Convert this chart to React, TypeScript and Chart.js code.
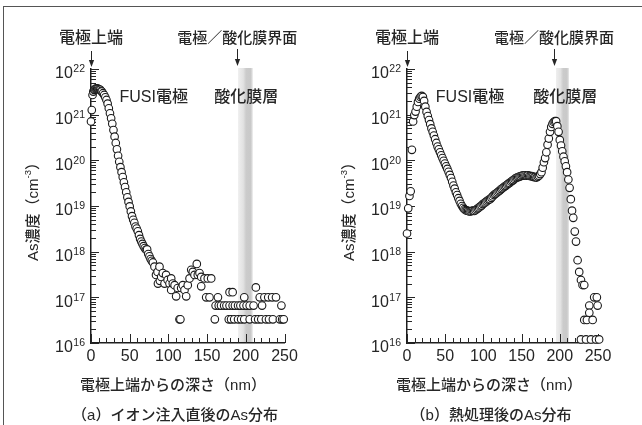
import React, { useEffect, useRef } from "react";
import { Chart, registerables } from "chart.js";

Chart.register(...registerables);

// ---------- data ----------
const xTickValues = [0, 50, 100, 150, 200, 250];
const yTickExponents = [16, 17, 18, 19, 20, 21, 22];

// (a) as implanted: depth (nm) and As concentration (cm^-3)
const aDepth = [
  0, 1, 2, 3, 4, 5, 6, 7, 8, 9, 10, 11, 12, 13, 14, 15.5, 17, 18.5, 20, 21.5, 23, 24.5, 26, 27.5, 29, 30.5, 32,
  33.5, 35, 36.5, 38, 39.5, 41, 42.5, 44, 45.5, 47, 48.5, 50, 51.5, 53, 54.5, 56, 57.5, 59, 60.5, 62, 63.5, 65,
  66.5, 68, 69.5, 71, 72.5, 74, 75.5, 77, 78.5, 80,
  82, 84, 86, 86.5, 88.5, 89, 90.7, 92.8, 95, 97, 99, 101.4, 103.6, 103.6, 105.7, 108, 110, 112, 114.3, 115.5,
  116.5, 118.6, 120.8, 123, 125, 127.3, 129.5, 131.5, 133.7, 136.7, 138, 140.2, 142.4, 142.4, 146.6, 148.8,
  150.9, 153.1, 155.3,
  160, 161, 164, 165, 168, 172, 175, 178, 179, 179, 181, 183, 183, 185, 186, 190, 190, 193, 194, 197, 198, 198,
  201, 205, 205, 210, 212, 213, 216, 218, 220, 221, 224, 226, 229, 230, 234, 235, 239, 244, 246, 247, 249,
];
const aConc = [
  7.1e20, 1.26e21, 2.7e21, 3.2e21, 3.5e21, 3.6e21, 3.7e21, 3.7e21, 3.7e21, 3.7e21, 3.6e21, 3.55e21, 3.5e21, 3.3e21,
  3.2e21, 2.95e21, 2.7e21, 2.4e21, 2.1e21, 1.74e21, 1.38e21, 1.07e21, 8.3e20, 6.3e20, 4.6e20, 3.3e20, 2.4e20,
  1.74e20, 1.26e20, 9.3e19, 7.1e19, 5.5e19, 4.3e19, 3.3e19, 2.6e19, 2.0e19, 1.55e19, 1.23e19, 9.8e18, 7.6e18,
  6.0e18, 5.0e18, 4.3e18, 3.55e18, 3.2e18, 2.8e18, 2.3e18, 1.9e18, 1.66e18, 1.48e18, 1.32e18, 1.2e18, 1.1e18,
  1.12e18, 8.9e17, 7.9e17, 6.9e17, 6.3e17, 5.8e17,
  4.7e17, 3.1e17, 3.6e17, 2.0e17, 4.7e17, 2.3e17, 2.8e17, 3.4e17, 2.0e17, 3.1e17, 2.4e17, 2.0e17, 2.6e17, 1.45e17,
  2.0e17, 1.85e17, 1.05e17, 1.6e17, 3.3e16, 3.3e16, 1.6e17, 1.85e17, 1.45e17, 1.05e17, 1.85e17, 2.6e17, 4.0e17,
  3.6e17, 3.1e17, 5.4e17, 3.1e17, 3.4e17, 2.8e17, 1.74e17, 2.6e17, 1.0e17, 2.6e17, 1.0e17, 2.6e17,
  3.3e16, 6.6e16, 1.0e17, 6.6e16, 6.6e16, 6.6e16, 6.6e16, 3.3e16, 1.3e17, 6.6e16, 3.3e16, 1.3e17, 6.6e16, 3.3e16,
  6.6e16, 6.6e16, 3.3e16, 6.6e16, 3.3e16, 6.6e16, 1.0e17, 3.3e16, 6.6e16, 6.6e16, 3.3e16, 6.6e16, 3.3e16, 1.65e17,
  3.3e16, 1.0e17, 3.3e16, 6.6e16, 1.0e17, 3.3e16, 1.0e17, 3.3e16, 1.0e17, 3.3e16, 1.0e17, 3.3e16, 6.6e16, 3.3e16,
  3.3e16,
];

// (b) after anneal
const bDepth = [
  0, 1.6, 3.2, 4.8, 6.4, 8.0, 9.6, 11.2, 12.8, 14.4, 16.0, 17.6, 19.2, 20.8, 22.4, 24.0, 25.6, 27.2, 28.8, 30.4,
  32.0, 33.6, 35.2, 36.8, 38.4, 40.0, 41.6, 43.2, 44.8, 46.4, 48.0, 49.6, 51.2, 52.8, 54.4, 56.0, 57.6, 59.2, 60.8,
  62.4, 64.0, 65.6, 67.2, 68.8, 70.4, 72.0, 73.6, 75.2, 76.8, 78.4, 80.0, 81.6, 83.2, 84.8, 86.4, 88.0, 89.6, 91.2,
  92.8, 94.4, 96.0, 97.6, 99.2, 100.8, 102.4, 104.0, 105.6, 107.2, 108.8, 110.4, 112.0, 113.6, 115.2, 116.8, 118.4,
  120.0, 121.6, 123.2, 124.8, 126.4, 128.0, 129.6, 131.2, 132.8, 134.4, 136.0, 137.6, 139.2, 140.8, 142.4, 144.0,
  145.6, 147.2, 148.8, 150.4, 152.0, 153.6, 155.2, 156.8, 158.4, 160.0, 161.6, 163.2, 164.8, 166.4, 168.0, 169.6,
  171.2, 172.8, 174.4, 176.0, 177.6, 179.2, 180.8, 182.4, 184.0, 185.6, 187.2, 188.8, 190.4, 192.0, 193.6, 195.2,
  196.8, 198.4, 200.0, 201.6, 203.2, 204.8, 206.4, 208.0, 209.6, 211.2, 212.8, 214.4, 216.0, 217.6, 219.6, 221.2,
  223.3, 225.4, 227.7, 229.8, 232.0,
  227.7, 232.0, 234.3, 235.5, 238.6, 238.6, 240.8, 243.0, 245.0, 247.4, 248.5, 249.5, 251.5,
];
const bConc = [
  2.5e18, 8.9e18, 1.66e19, 2.1e19, 1.7e20, 7.1e20, 9.8e20, 1.17e21, 1.5e21, 1.9e21, 2.24e21, 2.45e21, 2.57e21,
  2.45e21, 2.0e21, 1.5e21, 1.15e21, 9.3e20, 7.6e20, 6.2e20, 5.0e20, 4.2e20, 3.5e20, 2.9e20, 2.4e20, 2.0e20,
  1.74e20, 1.5e20, 1.29e20, 1.12e20, 9.8e19, 8.5e19, 7.4e19, 6.5e19, 5.6e19, 4.8e19, 4.1e19, 3.4e19, 2.8e19,
  2.4e19, 2.0e19, 1.74e19, 1.48e19, 1.29e19, 1.12e19, 1.0e19, 9.1e18, 8.5e18, 8.1e18, 7.9e18, 7.8e18, 7.6e18,
  7.6e18, 7.8e18, 7.9e18, 7.8e18, 8.1e18, 8.5e18, 8.9e18, 9.3e18, 9.8e18, 1.02e19, 1.1e19, 1.15e19, 1.2e19,
  1.26e19, 1.32e19, 1.38e19, 1.41e19, 1.51e19, 1.62e19, 1.74e19, 1.82e19, 1.9e19, 2.0e19, 2.1e19, 2.2e19, 2.35e19,
  2.45e19, 2.57e19, 2.7e19, 2.8e19, 2.95e19, 3.1e19, 3.2e19, 3.4e19, 3.55e19, 3.7e19, 3.9e19, 4.1e19, 4.2e19,
  4.3e19, 4.4e19, 4.5e19, 4.6e19, 4.7e19, 4.7e19, 4.7e19, 4.6e19, 4.7e19, 4.6e19, 4.5e19, 4.5e19, 4.4e19, 4.3e19,
  4.3e19, 4.2e19, 4.4e19, 4.6e19, 5.0e19, 5.5e19, 6.9e19, 9.1e19, 1.12e20, 1.5e20, 2.2e20, 3.0e20, 4.2e20, 5.4e20,
  6.3e20, 6.9e20, 7.2e20, 7.2e20, 5.6e20, 4.2e20, 2.8e20, 2.1e20, 1.58e20, 1.2e20, 9.5e19, 7.4e19, 5.5e19, 3.8e19,
  2.5e19, 1.41e19, 7.9e18, 5.5e18, 2.75e18, 1.66e18, 6.5e17, 3.6e17, 2.4e17, 1.86e17, 1.86e17,
  1.2e16, 3.2e16, 1.2e16, 3.2e16, 6.6e16, 4.6e16, 1.2e16, 3.2e16, 1.0e17, 1.2e16, 1.0e17, 6.6e16, 1.2e16,
];

const captions = ["（a）イオン注入直後のAs分布", "（b）熱処理後のAs分布"];
const xTitle = "電極上端からの深さ（nm）";
const yTitleMain = "As濃度（cm";
const yTitleSup = "-3";
const yTitleEnd = "）";
const topLabel = "電極上端";
const ifaceLabel = "電極／酸化膜界面";
const fusiLabel = "FUSI電極";
const oxideLabel = "酸化膜層";

// ---------- layout / style ----------
const W = 321;
const H = 425;
const TOP = 69;
const BOTTOM = 343;
const INK = "#262626";
const LATIN = "'Liberation Sans', 'Noto Sans CJK JP', sans-serif";
const CJK = "'Liberation Sans', 'Noto Sans CJK JP', sans-serif";
const CJKW = "500";

type Panel = {
  left: number;
  right: number;
  depth: number[];
  conc: number[];
  band: [number, number];
  ifaceX: number;
  fusiX: number;
  oxideX: number;
  caption: string;
};

const panels: Panel[] = [
  { left: 91, right: 284.5, depth: aDepth, conc: aConc, band: [190, 209], ifaceX: 189, fusiX: 81, oxideX: 200.5, caption: captions[0] },
  { left: 86, right: 277, depth: bDepth, conc: bConc, band: [195, 212], ifaceX: 192.5, fusiX: 82.5, oxideX: 207, caption: captions[1] },
];

function drawArrow(ctx: CanvasRenderingContext2D, x: number, y0: number, y1: number) {
  ctx.save();
  ctx.strokeStyle = INK;
  ctx.fillStyle = INK;
  ctx.lineWidth = 1;
  ctx.beginPath();
  ctx.moveTo(x, y0);
  ctx.lineTo(x, y1 - 5);
  ctx.stroke();
  ctx.beginPath();
  ctx.moveTo(x - 2.6, y1 - 7);
  ctx.lineTo(x + 2.6, y1 - 7);
  ctx.lineTo(x, y1);
  ctx.closePath();
  ctx.fill();
  ctx.restore();
}

function makePlugin(p: Panel) {
  return {
    id: "deco",
    beforeDatasetsDraw(chart: any) {
      const { ctx, chartArea } = chart;
      const xs = chart.scales.x;
      const ys = chart.scales.y;
      // oxide band
      const x0 = xs.getPixelForValue(p.band[0]);
      const x1 = xs.getPixelForValue(p.band[1]);
      const g = ctx.createLinearGradient(x0, 0, x1, 0);
      g.addColorStop(0, "#efefef");
      g.addColorStop(0.35, "#e2e2e2");
      g.addColorStop(0.55, "#cbcbcb");
      g.addColorStop(0.85, "#c9c9c9");
      g.addColorStop(1, "#e6e6e6");
      ctx.save();
      ctx.fillStyle = g;
      ctx.fillRect(x0, chartArea.top - 1, x1 - x0, chartArea.bottom - chartArea.top);
      ctx.restore();

      // inward tick marks
      ctx.save();
      ctx.strokeStyle = INK;
      ctx.lineWidth = 1;
      ctx.beginPath();
      const ax = chartArea.left;
      for (let e = 16; e <= 22; e++) {
        for (let k = 1; k <= 9; k++) {
          if (e === 22 && k > 1) break;
          const y = Math.round(ys.getPixelForValue(k * Math.pow(10, e))) + 0.5;
          const len = k === 1 ? 8 : 5;
          ctx.moveTo(ax, y);
          ctx.lineTo(ax + len, y);
        }
      }
      const by = chartArea.bottom;
      for (let v = 0; v <= 250; v += 10) {
        const x = Math.round(xs.getPixelForValue(v)) + 0.5;
        const len = v % 50 === 0 ? 9 : 5;
        ctx.moveTo(x, by);
        ctx.lineTo(x, by - len);
      }
      ctx.stroke();
      ctx.restore();
    },
    afterDraw(chart: any) {
      const { ctx, chartArea } = chart;
      const xs = chart.scales.x;
      const ys = chart.scales.y;
      ctx.save();
      ctx.fillStyle = INK;

      // y tick labels 10^n
      for (const e of yTickExponents) {
        const y = ys.getPixelForValue(Math.pow(10, e));
        const sup = String(e);
        ctx.font = `10.5px ${LATIN}`;
        const sw = ctx.measureText(sup).width;
        const supRight = chartArea.left - 6;
        ctx.textBaseline = "middle";
        ctx.textAlign = "right";
        ctx.fillText(sup, supRight, y + 0.5);
        ctx.font = `16px ${LATIN}`;
        ctx.fillText("10", supRight - sw - 0.5, y + 5);
      }

      // x tick labels
      ctx.font = `16px ${LATIN}`;
      ctx.textAlign = "center";
      ctx.textBaseline = "middle";
      for (const v of xTickValues) {
        ctx.fillText(String(v), xs.getPixelForValue(v), 357);
      }

      // x title
      ctx.font = `${CJKW} 15px ${CJK}`;
      ctx.fillText(xTitle, chartArea.left + 82, 386);

      // caption
      ctx.font = `${CJKW} 15px ${CJK}`;
      ctx.fillText(p.caption, chartArea.left + 84, 415.5);

      // y title (rotated)
      ctx.save();
      ctx.translate(chartArea.left - 57.5, 208);
      ctx.rotate(-Math.PI / 2);
      ctx.font = `${CJKW} 15px ${CJK}`;
      const w1 = ctx.measureText(yTitleMain).width;
      const w3 = ctx.measureText(yTitleEnd).width;
      ctx.font = `9.5px ${LATIN}`;
      const w2 = ctx.measureText(yTitleSup).width;
      const total = w1 + w2 + w3;
      let cx = -total / 2;
      ctx.textAlign = "left";
      ctx.font = `${CJKW} 15px ${CJK}`;
      ctx.fillText(yTitleMain, cx, 0);
      cx += w1;
      ctx.font = `9.5px ${LATIN}`;
      ctx.fillText(yTitleSup, cx, -5);
      cx += w2;
      ctx.font = `${CJKW} 15px ${CJK}`;
      ctx.fillText(yTitleEnd, cx, 0);
      ctx.restore();

      // annotations
      ctx.textAlign = "center";
      ctx.textBaseline = "middle";
      const x0 = xs.getPixelForValue(0);
      const xi = xs.getPixelForValue(p.ifaceX);
      ctx.font = `${CJKW} 16px ${CJK}`;
      ctx.fillText(topLabel, x0, 38.5);
      ctx.font = `${CJKW} 15px ${CJK}`;
      ctx.fillText(ifaceLabel, xi, 38.5);
      ctx.font = `${CJKW} 16px ${CJK}`;
      ctx.fillText(fusiLabel, xs.getPixelForValue(p.fusiX), 98);
      ctx.fillText(oxideLabel, xs.getPixelForValue(p.oxideX), 98);
      ctx.restore();

      drawArrow(ctx, Math.round(x0) + 0.5, 51, 67);
      drawArrow(ctx, Math.round(xi) + 0.5, 49, 66);
    },
  };
}

function Panel({ p, offset }: { p: Panel; offset: number }) {
  const ref = useRef<HTMLCanvasElement | null>(null);
  useEffect(() => {
    if (!ref.current) return;
    const data = p.depth.map((d, i) => ({ x: d, y: p.conc[i] }));
    const chart = new Chart(ref.current, {
      type: "scatter",
      data: {
        datasets: [
          {
            data,
            pointRadius: 3.8,
            pointHoverRadius: 3.8,
            borderWidth: 1.1,
            borderColor: "#1a1a1a",
            backgroundColor: "#ffffff",
            clip: false as any,
          },
        ],
      },
      options: {
        animation: false,
        responsive: false,
        devicePixelRatio: 1,
        events: [],
        layout: {
          autoPadding: false,
          padding: { top: TOP, bottom: H - BOTTOM, left: p.left, right: W - p.right },
        },
        plugins: { legend: { display: false }, tooltip: { enabled: false }, title: { display: false } },
        scales: {
          x: {
            type: "linear",
            min: 0,
            max: 250,
            ticks: { display: false },
            grid: { display: true, drawOnChartArea: false, drawTicks: false, color: "rgba(0,0,0,0)" },
            border: { display: true, color: "#1e1e1e", width: 1.5 },
            afterFit: (s: any) => {
              s.height = 0;
            },
          },
          y: {
            type: "logarithmic",
            min: 1e16,
            max: 1e22,
            ticks: { display: false },
            grid: { display: true, drawOnChartArea: false, drawTicks: false, color: "rgba(0,0,0,0)" },
            border: { display: true, color: "#1e1e1e", width: 1.5 },
            afterFit: (s: any) => {
              s.width = 0;
            },
          },
        },
      },
      plugins: [makePlugin(p)],
    } as any);
    return () => chart.destroy();
  }, [p]);
  return (
    <canvas
      ref={ref}
      width={W}
      height={H}
      style={{ position: "absolute", left: offset, top: 0, width: W, height: H }}
    />
  );
}

export default function App() {
  return (
    <div style={{ position: "absolute", left: 0, top: 0, width: 642, height: 425, overflow: "hidden", background: "#fff" }}>
      <div
        style={{
          position: "absolute",
          left: 3,
          top: 6,
          width: 700,
          height: 500,
          border: "1px solid #555",
          boxSizing: "border-box",
        }}
      />
      <Panel p={panels[0]} offset={0} />
      <Panel p={panels[1]} offset={321} />
    </div>
  );
}
